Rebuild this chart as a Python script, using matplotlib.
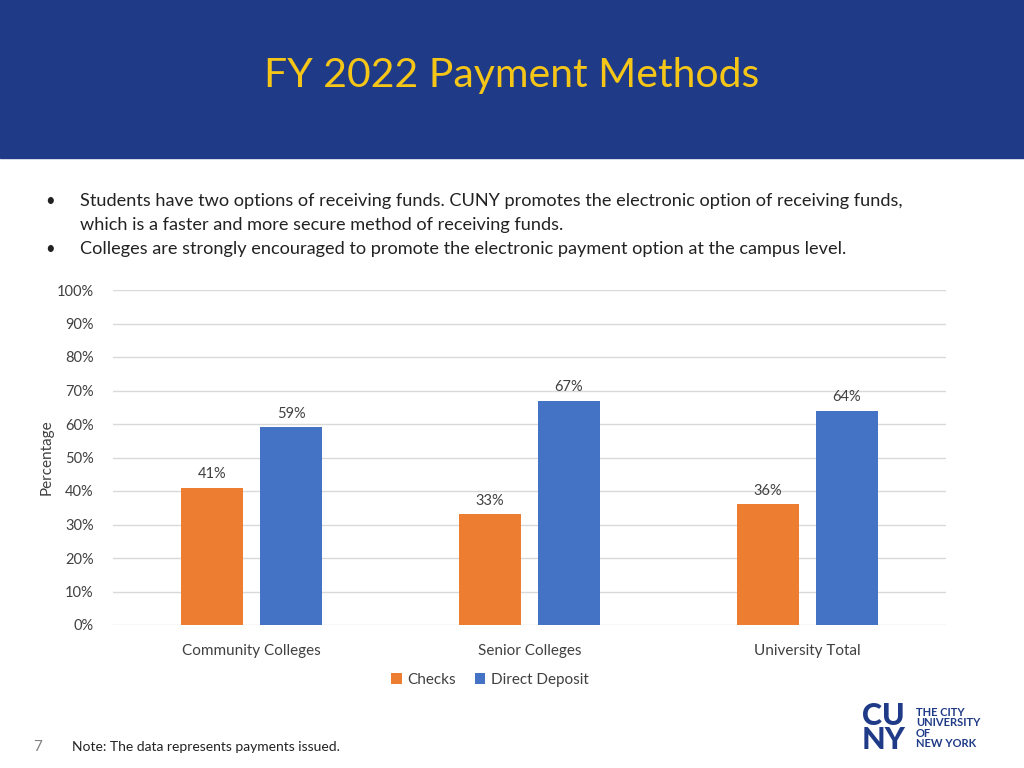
import matplotlib
matplotlib.use("Agg")
import matplotlib.pyplot as plt
from matplotlib.patches import Rectangle
import numpy as np

categories = ["Community Colleges", "Senior Colleges", "University Total"]
checks = [41, 33, 36]
direct_deposit = [59, 67, 64]
yticks = [0, 10, 20, 30, 40, 50, 60, 70, 80, 90, 100]

plt.rcParams["font.family"] = "Lato"

fig = plt.figure(figsize=(10.24, 7.68), dpi=100)

# header band
fig.patches.append(Rectangle((0, 1 - 158 / 768), 1, 158 / 768, transform=fig.transFigure,
                             color="#1F3A87", zorder=0))
fig.text(0.5, 1 - 75 / 768, "FY 2022 Payment Methods", color="#F5C518", fontsize=29.5,
         ha="center", va="center")

bullets = [
    (201, "•", "Students have two options of receiving funds. CUNY promotes the electronic option of receiving funds,"),
    (225, "", "which is a faster and more secure method of receiving funds."),
    (249, "•", "Colleges are strongly encouraged to promote the electronic payment option at the campus level."),
]
for y, b, t in bullets:
    if b:
        fig.text(45 / 1024, 1 - y / 768, b, fontsize=12, va="center", color="#222222")
    fig.text(80 / 1024, 1 - y / 768, t, fontsize=13.1, va="center", color="#222222")

ax = fig.add_axes([113 / 1024, 1 - 625 / 768, 833 / 1024, 335 / 768])
x = np.arange(len(categories))
w = 0.223
off = 0.142
b1 = ax.bar(x - off, checks, w, color="#ED7D31", label="Checks", zorder=3)
b2 = ax.bar(x + off, direct_deposit, w, color="#4472C4", label="Direct Deposit", zorder=3)
for bars in (b1, b2):
    for r in bars:
        h = r.get_height()
        ax.text(r.get_x() + r.get_width() / 2, h + 2, f"{h:.0f}%", ha="center", va="bottom",
                fontsize=10.5, color="#404040")

ax.set_xlim(-0.5, 2.5)
ax.set_ylim(0, 100)
ax.set_yticks(yticks)
ax.set_yticklabels([f"{v}%" for v in yticks], fontsize=10.5, color="#404040")
ax.set_xticks(x)
ax.set_xticklabels(categories, fontsize=11, color="#404040")
ax.tick_params(length=0, pad=14)
ax.tick_params(axis="x", pad=14)
ax.grid(axis="y", color="#D9D9D9", linewidth=1, zorder=0)
for s in ax.spines.values():
    s.set_visible(False)
ax.set_ylabel("Percentage", fontsize=11, color="#404040", labelpad=2)

fig.legend(handles=[b1, b2], loc="center", bbox_to_anchor=(490 / 1024, 1 - 680 / 768),
           ncol=2, frameon=False, fontsize=11, handlelength=0.7, handleheight=0.7,
           columnspacing=1.2, handletextpad=0.4, labelcolor="#404040")

fig.text(33 / 1024, 1 - 747 / 768, "7", fontsize=11, color="#808080", va="center")
fig.text(72 / 1024, 1 - 747 / 768, "Note: The data represents payments issued.", fontsize=10,
         color="#222222", va="center")

# logo approximation
fig.text(862 / 1024, 1 - 728 / 768, "CU\nNY", fontsize=22, fontweight="black", color="#1F3A87",
         va="center", ha="left", linespacing=0.8)
fig.text(916 / 1024, 1 - 728 / 768, "THE CITY\nUNIVERSITY\nOF\nNEW YORK", fontsize=8,
         fontweight="bold", color="#1F3A87", va="center", ha="left", linespacing=0.95)

fig.savefig("out.png", dpi=100)
